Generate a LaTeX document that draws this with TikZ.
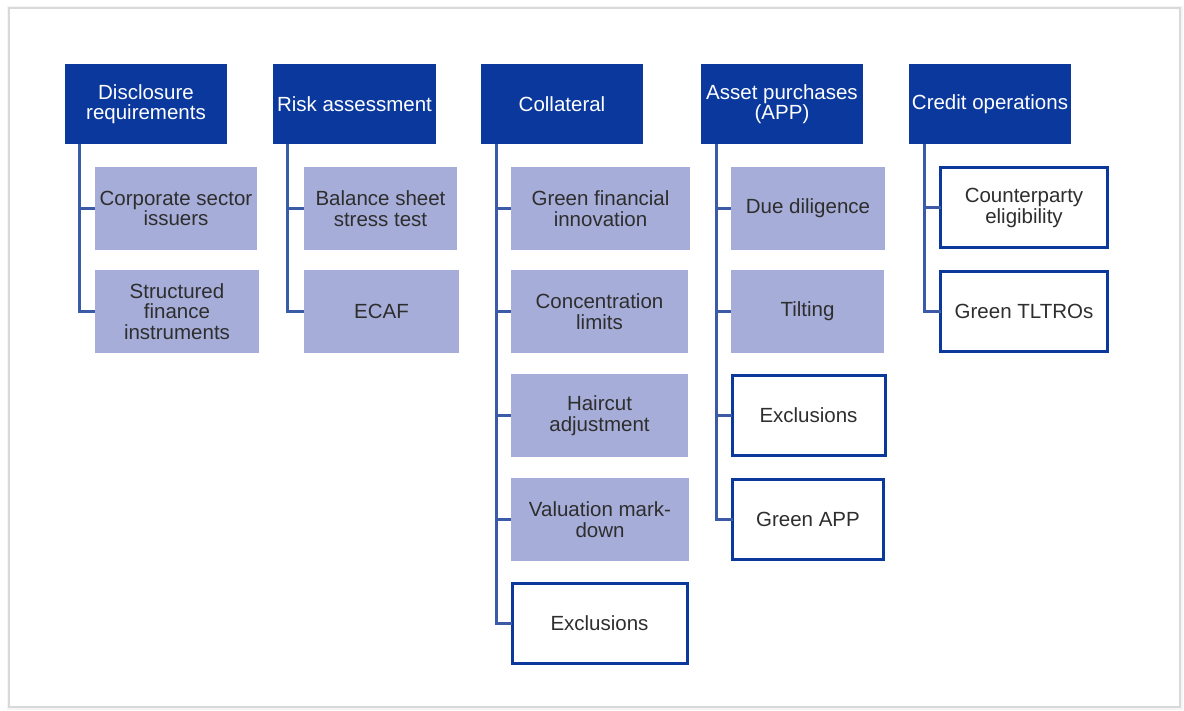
\documentclass[tikz,border=0pt]{standalone}
\usepackage{fontspec}
\setmainfont{Liberation Sans}
\definecolor{hdr}{HTML}{0A389D}
\definecolor{sub}{HTML}{A6ADD8}
\definecolor{conn}{HTML}{3B5BA6}
\definecolor{txt}{HTML}{2E2E2E}
\begin{document}
\begin{tikzpicture}[x=1pt,y=-1pt,
  every node/.style={inner sep=0pt,outer sep=0pt,align=center,font=\fontsize{20.5}{20.5}\selectfont},
  hdrbox/.style={rectangle,fill=hdr,text=white,minimum height=80pt},
  subbox/.style={rectangle,fill=sub,text=txt,minimum height=83pt},
  outbox/.style={rectangle,draw=hdr,line width=3pt,fill=white,text=txt,minimum height=80pt},
  link/.style={draw=conn,line width=3pt}]
\useasboundingbox (0,0) rectangle (1184,711);
\fill[gray!8] (7,6) rectangle (1183,710);
\draw[gray!30,fill=white,line width=1.2pt] (9,8) rectangle (1180,707);

% headers
\node[hdrbox,minimum width=162pt] (h1) at (146,104) {Disclosure\\requirements};
\node[hdrbox,minimum width=163pt] (h2) at (354.5,104) {Risk assessment};
\node[hdrbox,minimum width=162pt] (h3) at (562,104) {Collateral};
\node[hdrbox,minimum width=162pt] (h4) at (782,104) {Asset purchases\\(APP)};
\node[hdrbox,minimum width=162pt] (h5) at (990,104) {Credit operations};

% column 1
\node[subbox,minimum width=162pt] (a1) at (176,208.5) {Corporate sector\\issuers};
\node[subbox,minimum width=164pt] (a2) at (177,311.5) {Structured\\finance\\instruments};
% column 2
\node[subbox,minimum width=153pt] (b1) at (380.5,208.5) {Balance sheet\\stress test};
\node[subbox,minimum width=155pt] (b2) at (381.5,311.5) {ECAF};
% column 3
\node[subbox,minimum width=179pt] (c1) at (600.5,208.5) {Green financial\\innovation};
\node[subbox,minimum width=177pt] (c2) at (599.5,311.5) {Concentration\\limits};
\node[subbox,minimum width=177pt] (c3) at (599.5,415.5) {Haircut\\adjustment};
\node[subbox,minimum width=178pt] (c4) at (600,519.5) {Valuation mark-\\down};
\node[outbox,minimum width=175pt] (c5) at (599.5,623.5) {Exclusions};
% column 4
\node[subbox,minimum width=154pt] (d1) at (808,208.5) {Due diligence};
\node[subbox,minimum width=153pt] (d2) at (807.5,311.5) {Tilting};
\node[outbox,minimum width=153pt] (d3) at (808.5,415.5) {Exclusions};
\node[outbox,minimum width=151pt] (d4) at (808,519.5) {Green APP};
% column 5
\node[outbox,minimum width=167pt] (e1) at (1024,208) {Counterparty\\eligibility};
\node[outbox,minimum width=167pt] (e2) at (1024,311.5) {Green TLTROs};

% spine tops
\coordinate (s1) at (79,144);
\coordinate (s2) at (287,144);
\coordinate (s3) at (496,144);
\coordinate (s4) at (716,144);
\coordinate (s5) at (924,144);

\foreach \s/\n in {s1/a1,s1/a2,s2/b1,s2/b2,s3/c1,s3/c2,s3/c3,s3/c4,s3/c5,s4/d1,s4/d2,s4/d3,s4/d4,s5/e1,s5/e2}
  \draw[link] (\s) |- (\n.west);
\end{tikzpicture}
\end{document}
